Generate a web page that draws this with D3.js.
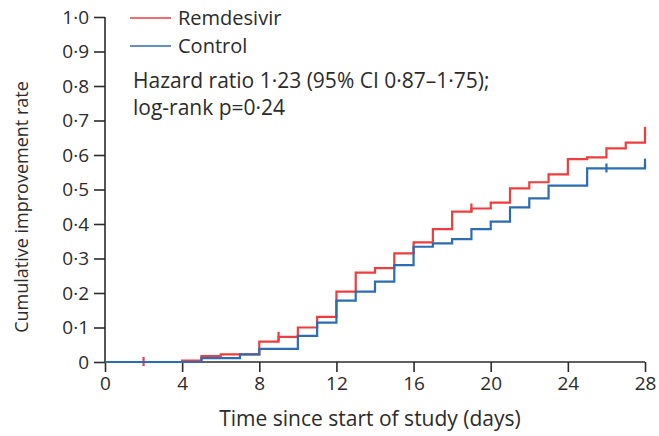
<!DOCTYPE html>
<html>
<head>
<meta charset="utf-8">
<script src="https://cdn.jsdelivr.net/npm/d3@7"></script>
<style>
  html, body { margin: 0; padding: 0; background: #fff; }
  svg { display: block; }
  text { font-family: "Open Sans", "Noto Sans", sans-serif; fill: #2b2b2b; }
</style>
</head>
<body>
<svg id="chart" width="659" height="436"></svg>
<script>
// ---- data ----
const xTicks = [0, 4, 8, 12, 16, 20, 24, 28];
const yTicks = [0, 0.1, 0.2, 0.3, 0.4, 0.5, 0.6, 0.7, 0.8, 0.9, 1.0];
const yTickLabels = ["0", "0·1", "0·2", "0·3", "0·4", "0·5", "0·6", "0·7", "0·8", "0·9", "1·0"];

const remdesivirDays   = [0, 4, 5, 6, 8, 9, 10, 11, 12, 13, 14, 15, 16, 17, 18, 19, 20, 21, 22, 23, 24, 25, 26, 27, 28];
const remdesivirValues = [0, 0.004, 0.017, 0.022, 0.059, 0.073, 0.100, 0.131, 0.204, 0.259, 0.272, 0.315, 0.347, 0.385, 0.436, 0.445, 0.462, 0.503, 0.521, 0.544, 0.588, 0.593, 0.619, 0.636, 0.667];
const remdesivirCensored = [2, 9, 19, 28];

const controlDays   = [0, 5, 7, 8, 10, 11, 12, 13, 14, 15, 16, 17, 18, 19, 20, 21, 22, 23, 25, 28];
const controlValues = [0, 0.011, 0.022, 0.038, 0.076, 0.114, 0.178, 0.204, 0.233, 0.281, 0.334, 0.344, 0.356, 0.385, 0.407, 0.448, 0.474, 0.511, 0.561, 0.575];
const controlCensored = [26, 28];

const seriesNames = ["Remdesivir", "Control"];
const annotation = ["Hazard ratio 1·23 (95% CI 0·87–1·75);", "log-rank p=0·24"];
const xTitle = "Time since start of study (days)";
const yTitle = "Cumulative improvement rate";

// ---- layout ----
const colors = { red: "#ee3d3d", blue: "#2c6cb2", axis: "#2b2b2b" };
const svg = d3.select("#chart");
const x = d3.scaleLinear().domain([0, 28]).range([105, 645]);
const y = d3.scaleLinear().domain([0, 1]).range([362, 17]);

// axes
const xAxis = d3.axisBottom(x).tickValues(xTicks).tickSize(10).tickPadding(5).tickFormat(d3.format("d"));
const gx = svg.append("g").attr("transform", `translate(0,${y(0)})`).call(xAxis);
const yAxis = d3.axisLeft(y).tickValues(yTicks).tickSize(11).tickPadding(5)
  .tickFormat((d, i) => yTickLabels[i]);
const gy = svg.append("g").attr("transform", `translate(${x(0)},0)`).call(yAxis);

[gx, gy].forEach(g => {
  g.select(".domain").attr("stroke", colors.axis).attr("stroke-width", 1.6);
  g.selectAll(".tick line").attr("stroke", colors.axis).attr("stroke-width", 1.6);
  g.selectAll(".tick text").attr("font-size", 19).attr("fill", "#2b2b2b")
    .style("font-family", '"Open Sans", sans-serif');
});
gx.select(".domain").attr("d", `M${x(0)},0H${x(28)}`);
gy.select(".domain").attr("d", `M0,${y(0)}V${y(1)}`);

// step curves
const line = d3.line().curve(d3.curveStepAfter).x(d => x(d[0])).y(d => y(d[1]));
function stepValue(days, values, t) {
  let v = values[0];
  for (let i = 0; i < days.length; i++) if (days[i] <= t) v = values[i];
  return v;
}
function drawSeries(days, values, censored, color) {
  const pts = days.map((d, i) => [d, values[i]]);
  svg.append("path").datum(pts).attr("d", line)
    .attr("fill", "none").attr("stroke", color).attr("stroke-width", 2.2);
  svg.append("g").selectAll("line").data(censored).join("line")
    .attr("x1", d => x(d)).attr("x2", d => x(d))
    .attr("y1", d => y(stepValue(days, values, d)) - 5)
    .attr("y2", d => y(stepValue(days, values, d)) + 4)
    .attr("stroke", color).attr("stroke-width", 2.2);
}
drawSeries(remdesivirDays, remdesivirValues, remdesivirCensored, colors.red);
drawSeries(controlDays, controlValues, controlCensored, colors.blue);

// legend
const legend = [
  { name: seriesNames[0], color: colors.red, yy: 18 },
  { name: seriesNames[1], color: colors.blue, yy: 46 }
];
legend.forEach(l => {
  svg.append("line").attr("x1", 130).attr("x2", 171).attr("y1", l.yy).attr("y2", l.yy)
    .attr("stroke", l.color).attr("stroke-width", 1.6);
  svg.append("text").attr("x", 178).attr("y", l.yy + 7).attr("font-size", 20).text(l.name);
});

// annotation
annotation.forEach((t, i) => {
  svg.append("text").attr("x", 133).attr("y", 88 + i * 27).attr("font-size", 21).text(t);
});

// axis titles
svg.append("text").attr("x", 370).attr("y", 426).attr("text-anchor", "middle")
  .attr("font-size", 21).text(xTitle);
svg.append("text").attr("transform", "translate(28,207) rotate(-90)")
  .attr("text-anchor", "middle").attr("font-size", 18).text(yTitle);
</script>
</body>
</html>
